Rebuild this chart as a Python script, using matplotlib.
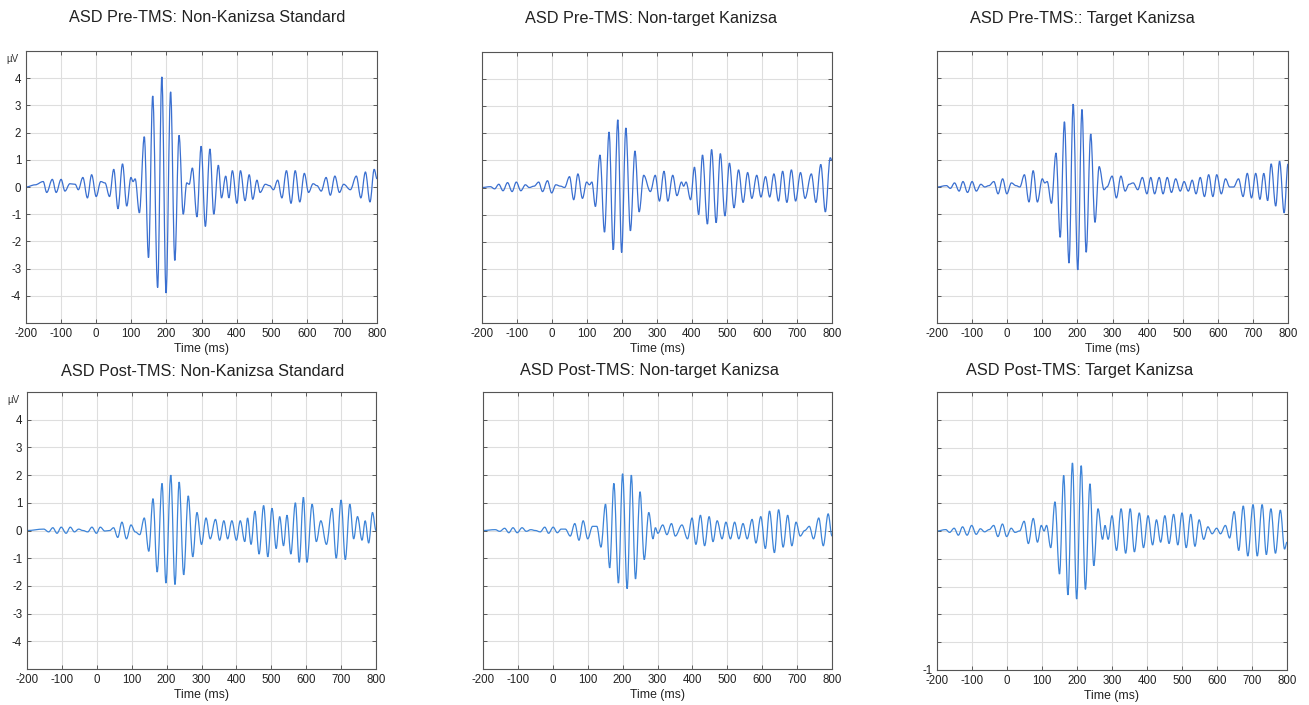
import matplotlib
matplotlib.use('Agg')
import matplotlib.pyplot as plt
import matplotlib.transforms as mtrans
from matplotlib.path import Path
from matplotlib.patches import PathPatch

plt.rcParams['font.family'] = ['Liberation Sans', 'DejaVu Sans']

# peaks/troughs (time in ms, amplitude in uV)
pre_standard = [(-200, 0), (-174, 0.08), (-151, 0.2), (-141, -0.2), (-125, 0.28), (-114, -0.2),
                (-100, 0.28), (-89, -0.15), (-75, 0.12), (-60, 0.1), (-51, -0.1), (-38, 0.35),
                (-25, -0.4), (-13, 0.45), (0, -0.35), (13, 0.2), (25, 0.15), (38, -0.35),
                (50, 0.65), (62, -0.8), (75, 0.85), (87, -0.7), (99, 0.35), (105, 0.2), (111, 0.3),
                (123, -0.95), (137, 1.85), (149, -2.6), (161, 3.35), (175, -3.7), (187, 4.05),
                (199, -3.9), (212, 3.5), (224, -2.7), (236, 1.9), (248, -1.0), (258, 0.15),
                (265, 0.1), (274, 0.7), (287, -1.1), (299, 1.5), (311, -1.45), (324, 1.4),
                (335, -1.0), (348, 0.8), (357, -0.4), (369, 0.4), (378, -0.4), (388, 0.6),
                (401, -0.6), (411, 0.6), (424, -0.5), (436, 0.45), (446, -0.45), (458, 0.25),
                (467, -0.2), (482, 0.1), (494, 0.05), (505, -0.1), (517, 0.25), (529, -0.4),
                (542, 0.6), (555, -0.6), (567, 0.6), (580, -0.55), (593, 0.5), (605, -0.2),
                (618, 0.12), (629, 0.05), (641, -0.15), (655, 0.35), (667, -0.3), (680, 0.4),
                (693, -0.2), (705, 0.1), (724, -0.1), (741, 0.4), (754, -0.4), (767, 0.55),
                (780, -0.55), (792, 0.65), (800, 0.3)]

pre_nontarget = [(-200, 0), (-176, 0.03), (-164, -0.05), (-152, 0.12), (-140, -0.12), (-127, 0.18),
                 (-114, -0.15), (-102, 0.2), (-89, -0.12), (-76, 0.1), (-65, 0.0), (-51, 0.05),
                 (-38, 0.2), (-27, -0.15), (-13, 0.25), (-1, -0.2), (11, 0.1), (24, 0.05),
                 (36, 0.0), (50, 0.4), (62, -0.45), (74, 0.5), (87, -0.4), (99, 0.2), (107, 0.1),
                 (114, 0.2), (124, -0.7), (137, 1.2), (150, -1.65), (163, 2.05), (175, -2.3),
                 (188, 2.5), (199, -2.4), (211, 2.2), (224, -1.6), (237, 1.35), (249, -0.9),
                 (262, 0.45), (281, -0.15), (295, 0.45), (307, -0.5), (320, 0.6), (331, -0.5),
                 (345, 0.45), (357, -0.3), (370, 0.2), (376, 0.05), (383, 0.2), (396, -0.45),
                 (407, 0.75), (419, -1.0), (430, 1.2), (444, -1.35), (456, 1.4), (469, -1.3),
                 (481, 1.25), (494, -1.05), (507, 0.9), (520, -0.75), (533, 0.65), (546, -0.55),
                 (559, 0.55), (571, -0.4), (585, 0.45), (597, -0.35), (610, 0.4), (622, -0.35),
                 (634, 0.5), (647, -0.5), (659, 0.6), (671, -0.55), (684, 0.65), (696, -0.5),
                 (710, 0.55), (723, -0.4), (741, 0.5), (754, -0.55), (768, 0.85), (781, -0.9),
                 (795, 1.1), (800, 1.0)]

pre_target = [(-200, 0), (-173, 0.05), (-162, -0.05), (-150, 0.15), (-137, -0.15), (-126, 0.2),
              (-113, -0.2), (-100, 0.2), (-88, -0.15), (-75, 0.1), (-64, 0.0), (-52, 0.05),
              (-38, 0.2), (-26, -0.25), (-13, 0.3), (-1, -0.25), (12, 0.15), (25, 0.05),
              (36, 0.0), (49, 0.45), (62, -0.55), (74, 0.6), (86, -0.55), (100, 0.3), (107, 0.15),
              (114, 0.2), (126, -0.6), (139, 1.25), (151, -1.85), (163, 2.4), (176, -2.8),
              (188, 3.05), (201, -3.05), (213, 2.85), (225, -2.4), (238, 1.95), (250, -1.3),
              (262, 0.75), (276, -0.1), (284, 0.0), (299, 0.4), (311, -0.4), (324, 0.4),
              (336, -0.15), (347, 0.1), (359, 0.15), (372, -0.1), (385, 0.35), (398, -0.25),
              (409, 0.35), (420, -0.25), (433, 0.35), (444, -0.25), (456, 0.35), (468, -0.2),
              (480, 0.3), (493, -0.15), (504, 0.2), (516, -0.15), (527, 0.25), (538, -0.25),
              (550, 0.35), (562, -0.35), (574, 0.45), (586, -0.35), (597, 0.45), (610, -0.25),
              (622, 0.3), (634, 0.0), (645, 0.0), (659, 0.3), (672, -0.35), (684, 0.5),
              (696, -0.4), (708, 0.5), (720, -0.45), (731, 0.5), (742, -0.5), (752, 0.85),
              (765, -0.7), (776, 0.95), (789, -0.95), (800, 0.85)]

post_standard = [(-200, 0), (-152, 0.05), (-138, -0.05), (-126, 0.1), (-114, -0.1), (-102, 0.12),
                 (-88, -0.1), (-76, 0.12), (-64, -0.05), (-52, 0.05), (-40, 0.0), (-26, -0.05),
                 (-14, 0.12), (-1, -0.1), (10, 0.12), (23, -0.02), (37, 0.0), (48, 0.1),
                 (60, -0.25), (72, 0.3), (85, -0.3), (98, 0.2), (110, -0.05), (123, -0.15),
                 (136, 0.45), (149, -0.75), (161, 1.15), (173, -1.5), (187, 1.7), (198, -1.9),
                 (212, 2.0), (224, -1.95), (236, 1.75), (249, -1.6), (262, 1.25), (275, -0.95),
                 (287, 0.65), (300, -0.5), (313, 0.45), (325, -0.3), (340, 0.4), (352, -0.35),
                 (364, 0.35), (375, -0.3), (387, 0.35), (400, -0.35), (411, 0.35), (424, -0.4),
                 (432, 0.45), (442, -0.5), (453, 0.7), (465, -0.85), (478, 0.9), (490, -0.95),
                 (502, 0.8), (514, -0.65), (524, 0.5), (535, -0.55), (545, 0.55), (556, -0.85),
                 (569, 1.0), (580, -1.15), (592, 1.2), (602, -1.15), (617, 0.95), (629, -0.4),
                 (642, 0.35), (658, -0.5), (674, 0.8), (686, -1.0), (700, 1.1), (712, -1.05),
                 (725, 0.95), (736, -0.3), (747, 0.5), (760, -0.35), (769, 0.35), (779, -0.45),
                 (790, 0.65), (800, 0.0)]

post_nontarget = [(-200, 0), (-165, 0.03), (-152, -0.03), (-138, 0.08), (-126, -0.08), (-114, 0.1),
                  (-102, -0.08), (-88, 0.1), (-76, -0.03), (-63, 0.03), (-50, 0.0), (-36, -0.05),
                  (-23, 0.12), (-12, -0.1), (1, 0.12), (13, -0.08), (24, 0.05), (36, 0.05),
                  (50, -0.2), (63, 0.25), (75, -0.35), (87, 0.35), (100, -0.3), (114, 0.15),
                  (126, 0.15), (138, -0.6), (151, 0.95), (163, -1.35), (175, 1.7), (188, -1.9),
                  (200, 2.05), (213, -2.1), (225, 2.0), (237, -1.75), (250, 1.4), (262, -1.05),
                  (275, 0.65), (287, -0.3), (294, 0.1), (301, -0.1), (315, 0.2), (327, -0.15),
                  (340, 0.25), (351, -0.2), (370, 0.2), (386, -0.3), (399, 0.45), (410, -0.5),
                  (423, 0.55), (435, -0.55), (448, 0.5), (459, -0.4), (471, 0.35), (485, -0.3),
                  (496, 0.3), (509, -0.3), (521, 0.3), (533, -0.3), (545, 0.25), (557, -0.3),
                  (571, 0.4), (582, -0.45), (596, 0.5), (609, -0.65), (621, 0.7), (635, -0.8),
                  (647, 0.75), (660, -0.6), (673, 0.55), (685, -0.55), (697, 0.3), (709, -0.2),
                  (722, 0.0), (735, 0.15), (747, -0.3), (762, 0.45), (775, -0.55), (789, 0.6),
                  (800, -0.2)]

post_target = [(-200, 0), (-175, 0.05), (-164, -0.05), (-151, 0.1), (-139, -0.15), (-127, 0.15),
               (-114, -0.15), (-101, 0.2), (-88, -0.12), (-76, 0.08), (-64, -0.03), (-51, 0.05),
               (-38, 0.2), (-26, -0.2), (-13, 0.25), (-1, -0.2), (12, 0.1), (23, -0.05),
               (36, 0.0), (49, 0.35), (61, -0.45), (75, 0.45), (87, -0.4), (98, 0.2), (106, 0.0),
               (113, 0.2), (125, -0.6), (137, 1.05), (150, -1.55), (162, 2.0), (174, -2.3),
               (187, 2.45), (199, -2.45), (212, 2.35), (224, -2.1), (237, 1.7), (248, -1.25),
               (260, 0.8), (273, -0.3), (280, 0.2), (289, -0.3), (300, 0.55), (313, -0.7),
               (326, 0.8), (339, -0.8), (352, 0.8), (364, -0.75), (378, 0.65), (390, -0.6),
               (403, 0.55), (416, -0.5), (427, 0.4), (439, -0.4), (451, 0.55), (463, -0.45),
               (476, 0.6), (488, -0.5), (500, 0.65), (512, -0.6), (525, 0.6), (537, -0.55),
               (549, 0.4), (562, -0.3), (574, 0.15), (586, -0.1), (599, 0.1), (610, -0.1),
               (624, 0.2), (636, -0.25), (649, 0.7), (662, -0.7), (675, 0.9), (688, -0.9),
               (703, 0.95), (715, -0.9), (729, 0.95), (741, -0.85), (754, 0.8), (767, -0.8),
               (781, 0.75), (793, -0.65), (800, -0.4)]

titles = ['ASD Pre-TMS: Non-Kanizsa Standard', 'ASD Pre-TMS: Non-target Kanizsa',
          'ASD Pre-TMS:: Target Kanizsa', 'ASD Post-TMS: Non-Kanizsa Standard',
          'ASD Post-TMS: Non-target Kanizsa', 'ASD Post-TMS: Target Kanizsa']
series = [pre_standard, pre_nontarget, pre_target, post_standard, post_nontarget, post_target]
xticks = list(range(-200, 801, 100))
yticks = list(range(-5, 6))

W, H = 1309, 705
fig = plt.figure(figsize=(W / 100, H / 100), dpi=100)

# axes boxes in pixels: left, right, top, bottom
boxes = [(26, 377, 51, 323), (482, 832, 52, 323), (937, 1288, 51, 323),
         (27, 376, 392, 669), (483, 832, 392, 669), (937, 1287, 392, 670)]
title_pos = [(207, 18), (651, 18), (1082, 18), (203, 371), (649, 371), (1080, 371)]


def wave_path(pts):
    # smooth curve through the read peaks, flat tangent at every peak
    verts = [pts[0]]
    codes = [Path.MOVETO]
    for (t0, v0), (t1, v1) in zip(pts[:-1], pts[1:]):
        d = (t1 - t0) * 0.36
        verts += [(t0 + d, v0), (t1 - d, v1), (t1, v1)]
        codes += [Path.CURVE4] * 3
    return Path(verts, codes)


for i in range(6):
    l, r, t, b = boxes[i]
    ax = fig.add_axes([l / W, 1 - b / H, (r - l) / W, (b - t) / H])
    col = '#3a6fd0' if i < 3 else '#3d84d8'
    ax.add_patch(PathPatch(wave_path(series[i]), fill=False, edgecolor=col, lw=0.9))
    ax.set_xlim(-200, 800)
    ax.set_ylim(-5, 5)
    ax.set_xticks(xticks)
    ax.set_xticklabels([str(x) for x in xticks])
    ax.set_yticks(yticks)
    if i in (0, 3):
        ax.set_yticklabels(['.'] + [str(y) for y in yticks[1:-1]] + [''])
        ax.text(-0.022, 4.9, 'µV', transform=mtrans.blended_transform_factory(ax.transAxes, ax.transData),
                ha='right', va='top', fontsize=7, color='#333333')
    elif i == 5:
        ax.set_yticklabels(['-1'] + [''] * 10)
    else:
        ax.set_yticklabels([''] * 11)
    ax.grid(True, color='#dedede', lw=0.8)
    ax.set_axisbelow(True)
    ax.tick_params(direction='in', length=3, width=0.6, top=True, right=True,
                   labelsize=8.3, colors='#444444', labelcolor='#222222', pad=3.5)
    for s in ax.spines.values():
        s.set_color('#555555')
        s.set_linewidth(0.8)
    ax.set_xlabel('Time (ms)', fontsize=8.8, color='#222222', labelpad=2.5)
    fig.text(title_pos[i][0] / W, 1 - title_pos[i][1] / H, titles[i], ha='center', va='center',
             fontsize=11.7, color='#222222')

fig.savefig('out.png', dpi=100)
